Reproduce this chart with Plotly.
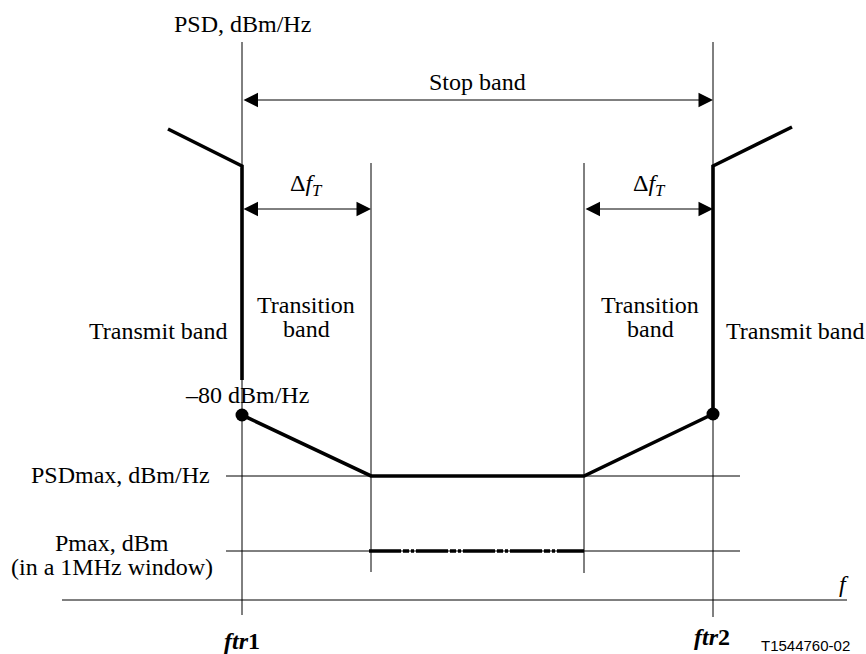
import plotly.graph_objects as go

# ---- Diagram data (diagram units: x = frequency position, y = level, top-down) ----
# frequency marks
freq_names = ["outer_left", "ftr1", "ftr1+dfT", "ftr2-dfT", "ftr2", "outer_right"]
freq_pos = [168, 242, 371, 584, 713, 792]

# PSD mask, transmit-band edges and stop band
mask_left_x = [168, 242, 242]
mask_left_y = [129, 166, 380]
mask_stop_x = [242, 371, 584, 713]
mask_stop_y = [415, 476, 476, 414]
mask_right_x = [713, 713, 792]
mask_right_y = [414, 166, 127]

# -80 dBm/Hz points at ftr1 and ftr2
dot_x = [242, 713]
dot_y = [415, 414]

# reference levels
psdmax_level = 476
pmax_level = 551
level_x = [226, 740]
pmax_x = [369, 584]

# frequency axis
axis_y = 600
axis_x = [62, 847]

# vertical guide lines: (x, top, bottom)
guides_x = [242, 713, 371, 584]
guides_top = [42, 42, 163, 163]
guides_bottom = [615, 617, 572, 573]

# dimension arrows: (x_from, x_to, y)
arrow_from = [242, 242, 584]
arrow_to = [713, 371, 713]
arrow_y = [100, 209, 209]

SERIF = "Liberation Serif, Times New Roman, serif"
FS = 24

fig = go.Figure()

thin = dict(color="#000000", width=1)
for gx, gt, gb in zip(guides_x, guides_top, guides_bottom):
    fig.add_trace(go.Scatter(x=[gx, gx], y=[gt, gb], mode="lines", line=thin, hoverinfo="skip"))

fig.add_trace(go.Scatter(x=level_x, y=[psdmax_level] * 2, mode="lines", line=thin, hoverinfo="skip"))
fig.add_trace(go.Scatter(x=level_x, y=[pmax_level] * 2, mode="lines", line=thin, hoverinfo="skip"))
fig.add_trace(go.Scatter(x=axis_x, y=[axis_y] * 2, mode="lines", line=thin, hoverinfo="skip"))

thick = dict(color="#000000", width=3.6)
for mx, my in [(mask_left_x, mask_left_y), (mask_stop_x, mask_stop_y), (mask_right_x, mask_right_y)]:
    fig.add_trace(go.Scatter(x=mx, y=my, mode="lines", line=thick, hoverinfo="skip"))

fig.add_trace(go.Scatter(x=pmax_x, y=[pmax_level] * 2, mode="lines",
                         line=dict(color="#000000", width=3.4, dash="32px,2px,6px,2px,3px,2px"),
                         hoverinfo="skip"))

fig.add_trace(go.Scatter(x=dot_x, y=dot_y, mode="markers",
                         marker=dict(size=13, color="#000000"), hoverinfo="skip"))

annotations = []
for a0, a1, ay in zip(arrow_from, arrow_to, arrow_y):
    annotations.append(dict(x=a1, y=ay, ax=a0, ay=ay, xref="x", yref="y", axref="x", ayref="y",
                            text="", showarrow=True, arrowside="end+start",
                            arrowhead=2, startarrowhead=2, arrowsize=2.9, startarrowsize=2.9,
                            arrowwidth=1, arrowcolor="#000000", standoff=0, startstandoff=0))


def label(text, x, y, xanchor="center", size=FS, family=SERIF):
    annotations.append(dict(x=x, y=y, xref="x", yref="y", text=text, showarrow=False,
                            xanchor=xanchor, yanchor="middle",
                            font=dict(family=family, size=size, color="#000000")))


dft = "Δ<i>f</i><sub><i>T</i></sub>"
label("PSD, dBm/Hz", 242, 24)
label("Stop band", 477, 82)
label(dft, 306, 185)
label(dft, 649, 185)
label("Transition", 306, 305)
label("band", 306, 329)
label("Transition", 650, 305)
label("band", 650, 329)
label("Transmit band", 158, 331)
label("Transmit band", 795, 331)
label("–80 dBm/Hz", 247, 395)
label("PSDmax, dBm/Hz", 212, 475, xanchor="right")
label("Pmax, dBm", 112, 543)
label("(in a 1MHz window)", 112, 567)
label("<b><i>ftr</i>1</b>", 242, 641)
label("<b><i>ftr</i>2</b>", 712, 637)
label("<i>f</i>", 844, 584)
label("T1544760-02", 805, 645, size=15, family="Liberation Sans, Arial, sans-serif")

fig.update_layout(
    width=866, height=654,
    margin=dict(l=0, r=0, t=0, b=0),
    paper_bgcolor="white", plot_bgcolor="white",
    showlegend=False,
    xaxis=dict(range=[0, 866], visible=False, fixedrange=True),
    yaxis=dict(range=[654, 0], visible=False, fixedrange=True),
    annotations=annotations,
)

fig.write_html("out.html", config={"displayModeBar": False},
               post_script="document.body.style.margin='0';document.body.style.overflow='hidden';")
